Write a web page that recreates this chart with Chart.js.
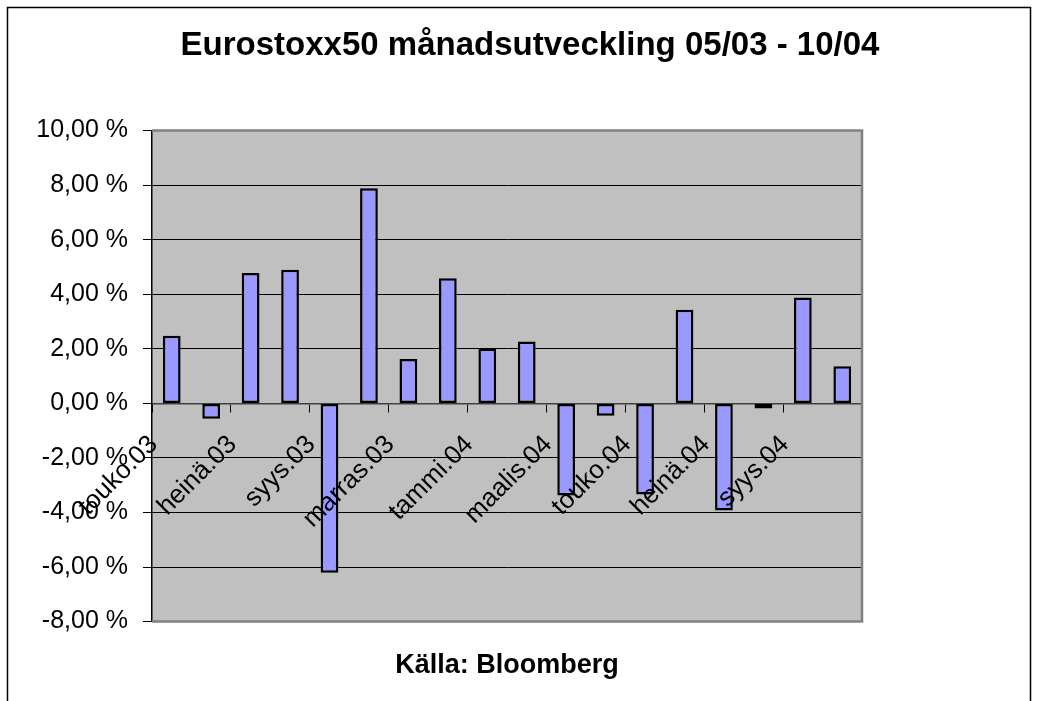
<!DOCTYPE html>
<html>
<head>
<meta charset="utf-8">
<script src="https://cdn.jsdelivr.net/npm/chart.js@4"></script>
<style>
  html, body { margin: 0; padding: 0; background: #fff; }
</style>
</head>
<body>
<canvas id="chart" width="1039" height="701"></canvas>
<script>
// Data
const months = ['touko.03', 'kesä.03', 'heinä.03', 'elo.03', 'syys.03', 'loka.03',
    'marras.03', 'joulu.03', 'tammi.04', 'helmi.04', 'maalis.04', 'huhti.04',
    'touko.04', 'kesä.04', 'heinä.04', 'elo.04', 'syys.04', 'loka.04'];
const monthlyChange = [2.48, -0.56, 4.78, 4.90, -6.21, 7.89, 1.63, 4.59, 2.01,
    2.27, -3.38, -0.45, -3.34, 3.43, -3.93, -0.19, 3.88, 1.36];
const yTicks = [10, 8, 6, 4, 2, 0, -2, -4, -6, -8];

Chart.defaults.font.family = "'Liberation Sans', Arial, sans-serif";
Chart.defaults.color = '#000';

// Outer frame, grey plot area and its border
const plotFrame = {
    id: 'plotFrame',
    beforeDraw(chart) {
        const { ctx, chartArea: a } = chart;
        ctx.save();
        ctx.strokeStyle = '#000';
        ctx.lineWidth = 1.5;
        ctx.strokeRect(7.5, 7.5, 1023, 760);
        ctx.fillStyle = '#c0c0c0';
        ctx.fillRect(a.left, a.top, a.width, a.height);
        ctx.restore();
    },
    beforeDatasetsDraw(chart) {
        const { ctx, chartArea: a } = chart;
        ctx.save();
        ctx.strokeStyle = '#808080';
        ctx.lineWidth = 2.5;
        ctx.beginPath();
        ctx.moveTo(a.left, a.top);
        ctx.lineTo(a.right, a.top);
        ctx.lineTo(a.right, a.bottom);
        ctx.lineTo(a.left, a.bottom);
        ctx.stroke();
        ctx.restore();
    }
};

function yGridColor(ctx) {
    const v = ctx.tick ? ctx.tick.value : null;
    if (v === 10 || v === -8 || v === 0) return 'rgba(0,0,0,0)';
    return '#000';
}

new Chart(document.getElementById('chart'), {
    type: 'bar',
    data: {
        labels: months,
        datasets: [{
            data: monthlyChange,
            backgroundColor: '#9999ff',
            borderColor: '#000',
            borderWidth: 2.5,
            borderSkipped: false,
            barPercentage: 0.45,
            categoryPercentage: 1
        }]
    },
    options: {
        responsive: false,
        animation: false,
        layout: { padding: { left: 21, right: 0, top: 8, bottom: 0 } },
        scales: {
            x: {
                position: { y: 0 },
                offset: true,
                grid: {
                    offset: true,
                    drawOnChartArea: false,
                    tickLength: 8,
                    lineWidth: 1,
                    color: ctx => (ctx.type !== 'tick' || ctx.index % 2 === 0) ? '#000' : 'rgba(0,0,0,0)'
                },
                border: { color: '#404040', width: 1.5 },
                ticks: {
                    z: 1, // month labels sit on top of the bars
                    autoSkip: false,
                    minRotation: 45,
                    maxRotation: 45,
                    labelOffset: -18,
                    padding: 18,
                    font: { size: 26 },
                    callback(value, i) {
                        return i % 2 === 0 ? this.getLabelForValue(value) : '';
                    }
                }
            },
            y: {
                min: -8,
                max: 10,
                afterBuildTicks: scale => { scale.ticks = yTicks.map(v => ({ value: v })); },
                afterFit: scale => { scale.width = 131; },
                grid: { color: yGridColor, tickColor: '#000', tickLength: 9, lineWidth: 1 },
                border: { color: '#000', width: 1.5 },
                ticks: {
                    padding: 15,
                    font: { size: 25 },
                    callback: v => v.toFixed(2).replace('.', ',') + ' %'
                }
            },
            yPad: {
                position: 'right',
                grid: { display: false },
                border: { display: false },
                ticks: { display: false },
                afterFit: scale => { scale.width = 177; }
            }
        },
        plugins: {
            legend: { display: false },
            tooltip: { enabled: false },
            title: {
                display: true,
                text: 'Eurostoxx50 månadsutveckling 05/03 - 10/04',
                font: { size: 33, weight: 'bold' },
                padding: { top: 18, bottom: 65 }
            },
            subtitle: {
                display: true,
                position: 'bottom',
                fullSize: false,
                text: 'Källa: Bloomberg',
                font: { size: 27, weight: 'bold' },
                padding: { top: 28, bottom: 19 }
            }
        }
    },
    plugins: [plotFrame]
});
</script>
</body>
</html>
